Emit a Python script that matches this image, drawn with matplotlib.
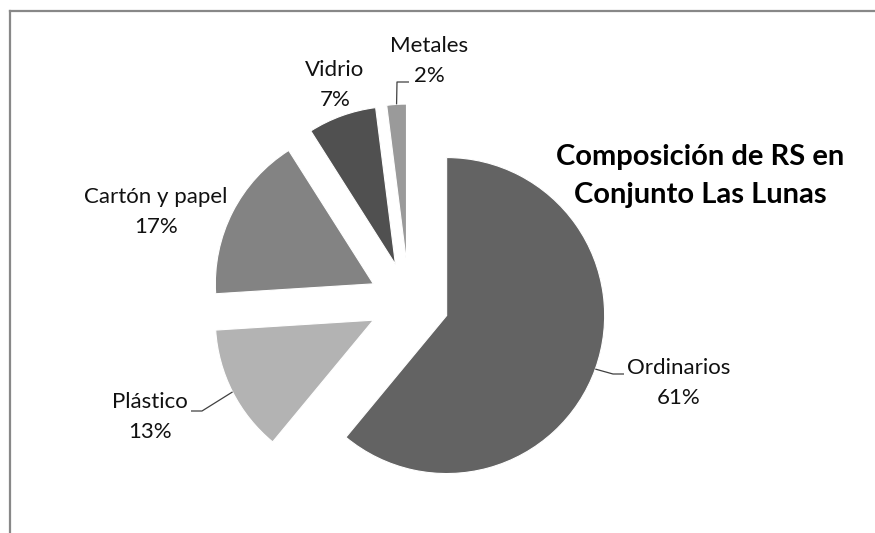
import matplotlib
matplotlib.use("Agg")
import matplotlib.pyplot as plt
import numpy as np
from matplotlib.lines import Line2D

categories = ["Ordinarios", "Plástico", "Cartón y papel", "Vidrio", "Metales"]
values = [61, 13, 17, 7, 2]
pct_labels = ["61%", "13%", "17%", "7%", "2%"]
colors = ["#636363", "#b3b3b3", "#838383", "#505050", "#9a9a9a"]

W, H = 875, 533
fig = plt.figure(figsize=(W / 100, H / 100), dpi=100)
fig.patch.set_facecolor("white")
ax = fig.add_axes([0, 0, 1, 1])

# pixel geometry of the pie
cx_px, cy_px, r_px = 409, 302, 158
explode_frac = 40 / 158

wedges, _ = ax.pie(values, startangle=90, counterclock=False, colors=colors,
                   explode=[explode_frac] * len(values), radius=1.0,
                   wedgeprops=dict(linewidth=0.8, edgecolor="white"))

ax.set_xlim(-cx_px / r_px, (W - cx_px) / r_px)
ax.set_ylim(-(H - cy_px) / r_px, cy_px / r_px)
ax.set_aspect("auto")
ax.axis("off")

def px(x, y):
    """pixel (from top-left) -> data coords"""
    return (x - cx_px) / r_px, (cy_px - y) / r_px

FONT = "Lato"
lab_size = 16

# label positions (pixels, center of two-line block)
label_pos = {
    "Ordinarios": (679, 383),
    "Plástico": (150, 417),
    "Cartón y papel": (156, 212),
    "Vidrio": (335, 85),
    "Metales": (429, 61),
}
for cat, pct in zip(categories, pct_labels):
    x, y = px(*label_pos[cat])
    ax.text(x, y, f"{cat}\n{pct}", ha="center", va="center", fontsize=lab_size,
            family=FONT, color="#111111", linespacing=1.6)

def wedge_mid_outer(w):
    th = np.deg2rad((w.theta1 + w.theta2) / 2)
    return w.center[0] + w.r * np.cos(th), w.center[1] + w.r * np.sin(th)

# leader lines: elbow point and end (pixels)
leaders = {
    "Ordinarios": [(613, 374), (624, 374)],
    "Plástico": [(202, 411), (191, 411)],
    "Metales": [(397, 82), (409, 82)],
}
for w, cat in zip(wedges, categories):
    if cat in leaders:
        sx, sy = wedge_mid_outer(w)
        pts = [(sx, sy)] + [px(*p) for p in leaders[cat]]
        xs, ys = zip(*pts)
        ax.plot(xs, ys, color="#404040", lw=0.9, solid_capstyle="butt")

# title
tx, ty = px(700, 176)
ax.text(tx, ty, "Composición de RS en\nConjunto Las Lunas", ha="center", va="center",
        fontsize=21, fontweight="bold", family=FONT, color="black", linespacing=1.55)

# chart border (left and top visible)
fig.add_artist(Line2D([10 / W, 10 / W], [0, 1 - 11 / H], transform=fig.transFigure,
                      color="#888888", lw=1.6))
fig.add_artist(Line2D([10 / W, 1], [1 - 11 / H, 1 - 11 / H], transform=fig.transFigure,
                      color="#888888", lw=1.6))

fig.savefig("out.png", dpi=100, facecolor="white")
